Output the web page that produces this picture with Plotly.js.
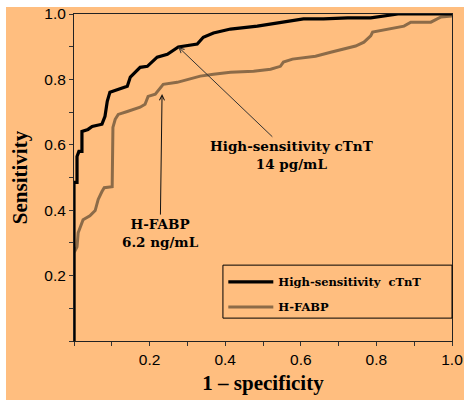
<!DOCTYPE html>
<html>
<head>
<meta charset="utf-8">
<script src="https://cdn.plot.ly/plotly-3.0.1.min.js"></script>
<style>
html,body{margin:0;padding:0;background:#ffffff;}
#chart{width:464px;height:400px;}
</style>
</head>
<body>
<div id="chart"></div>
<script>
// High-sensitivity cTnT ROC curve (1 - specificity, sensitivity)
var tntX = [0, 0, 0.008, 0.008, 0.013, 0.021, 0.021, 0.037, 0.048, 0.074, 0.082, 0.088, 0.095, 0.117, 0.141, 0.149, 0.175, 0.194, 0.220, 0.247, 0.276, 0.326, 0.342, 0.369, 0.414, 0.485, 0.546, 0.607, 0.660, 0.724, 0.785, 0.857, 1.0];
var tntY = [0, 0.485, 0.485, 0.564, 0.580, 0.580, 0.641, 0.647, 0.656, 0.663, 0.687, 0.733, 0.761, 0.770, 0.779, 0.807, 0.837, 0.840, 0.868, 0.877, 0.899, 0.908, 0.929, 0.942, 0.954, 0.963, 0.975, 0.985, 0.985, 0.988, 0.988, 1.0, 1.0];
// H-FABP ROC curve
var fabpX = [0, 0, 0.008, 0.011, 0.024, 0.042, 0.056, 0.064, 0.074, 0.080, 0.101, 0.103, 0.109, 0.117, 0.141, 0.175, 0.188, 0.196, 0.215, 0.228, 0.236, 0.273, 0.294, 0.321, 0.334, 0.369, 0.414, 0.475, 0.520, 0.546, 0.554, 0.578, 0.618, 0.639, 0.679, 0.724, 0.745, 0.767, 0.785, 0.790, 0.830, 0.873, 0.891, 0.944, 0.971, 1.0];
var fabpY = [0, 0.27, 0.288, 0.331, 0.371, 0.383, 0.399, 0.433, 0.457, 0.469, 0.472, 0.653, 0.678, 0.693, 0.702, 0.715, 0.724, 0.748, 0.755, 0.773, 0.785, 0.791, 0.798, 0.807, 0.810, 0.816, 0.822, 0.825, 0.831, 0.840, 0.853, 0.862, 0.868, 0.871, 0.883, 0.896, 0.902, 0.914, 0.933, 0.945, 0.954, 0.963, 0.975, 0.975, 0.991, 0.994];
var seriesNames = ["High-sensitivity  cTnT", "H-FABP"];
var tickVals = [0.2, 0.4, 0.6, 0.8, 1.0];
var tickText = ["0.2", "0.4", "0.6", "0.8", "1.0"];
var xTitle = "1 – specificity";
var yTitle = "Sensitivity";
// cut-off points
var cutTnt = {x: 0.276, y: 0.899, text: "High-sensitivity cTnT<br>14 pg/mL"};
var cutFabp = {x: 0.233, y: 0.755, text: "H-FABP<br>6.2 ng/mL"};

var bg = "#FFBE7F";
var serif = "'Liberation Serif', 'DejaVu Serif', serif";
var wideSerif = "'DejaVu Serif', 'Liberation Serif', serif";
var sans = "'Liberation Sans', Arial, sans-serif";

var traces = [
  {x: fabpX, y: fabpY, name: seriesNames[1], mode: "lines", cliponaxis: false, legendgroup: "b",
   line: {color: "#8C6B48", width: 3}, legendrank: 2},
  {x: tntX, y: tntY, name: seriesNames[0], mode: "lines", cliponaxis: false, legendgroup: "a",
   line: {color: "#000000", width: 3.2}, legendrank: 1}
];

var axisCommon = {
  range: [0, 1], tickvals: tickVals, ticktext: tickText,
  ticks: "outside", ticklen: 4, tickcolor: "#333", ticklabeloverflow: "allow",
  minor: {dtick: 0.1, tick0: 0, ticks: "outside", ticklen: 4, tickcolor: "#333"},
  showgrid: false, zeroline: false, showline: true, linecolor: "#222", linewidth: 1,
  mirror: true, tickfont: {family: sans, size: 15.5, color: "#000"}, fixedrange: true
};

var W = 378, H = 327, L = 74, T = 14, R = 12, B = 59;

var layout = {
  width: 464, height: 400,
  margin: {l: L, r: R, t: T, b: B},
  paper_bgcolor: bg, plot_bgcolor: bg,
  showlegend: true,
  legend: {x: 0.395, y: 0.225, xanchor: "left", yanchor: "top",
    bgcolor: "rgba(0,0,0,0)", borderwidth: 0,
    font: {family: wideSerif, size: 11.5, color: "#000", weight: "bold"},
    itemwidth: 45, tracegroupgap: 6, traceorder: "grouped"},
  shapes: [
    // white scan margins at top and left of the figure
    {type: "rect", xref: "paper", yref: "paper", x0: -L / W, x1: 1 + R / W, y0: 1 + 7 / H, y1: 1 + T / H,
     line: {width: 0}, fillcolor: "#ffffff", layer: "above"},
    {type: "rect", xref: "paper", yref: "paper", x0: -L / W, x1: (6 - L) / W, y0: -B / H, y1: 1 + T / H,
     line: {width: 0}, fillcolor: "#ffffff", layer: "above"},
    // legend frame
    {type: "rect", xref: "paper", yref: "paper", x0: 0.394, x1: 1.0, y0: 0.070, y1: 0.232,
     line: {color: "#000", width: 1}, fillcolor: "rgba(0,0,0,0)", layer: "above"}
  ],
  xaxis: Object.assign({}, axisCommon, {
    title: {text: xTitle, font: {family: serif, size: 21, color: "#000", weight: "bold"}, standoff: 8}
  }),
  yaxis: Object.assign({}, axisCommon, {
    title: {text: yTitle, font: {family: serif, size: 21, color: "#000", weight: "bold"}, standoff: 10}
  }),
  annotations: [
    {x: cutTnt.x, y: cutTnt.y, xref: "x", yref: "y", axref: "x", ayref: "y",
     ax: 0.576, ay: 0.568, text: "<b>" + cutTnt.text + "</b>",
     font: {family: wideSerif, size: 13.5, color: "#000"}, showarrow: true,
     arrowhead: 5, arrowsize: 1, arrowwidth: 1, arrowcolor: "#333"},
    {x: cutFabp.x, y: cutFabp.y, xref: "x", yref: "y", axref: "x", ayref: "y",
     ax: 0.228, ay: 0.330, text: "<b>" + cutFabp.text + "</b>",
     font: {family: wideSerif, size: 13.5, color: "#000"}, showarrow: true,
     arrowhead: 5, arrowsize: 1, arrowwidth: 1, arrowcolor: "#111"}
  ]
};

Plotly.newPlot("chart", traces, layout, {displayModeBar: false, staticPlot: true});
</script>
</body>
</html>
